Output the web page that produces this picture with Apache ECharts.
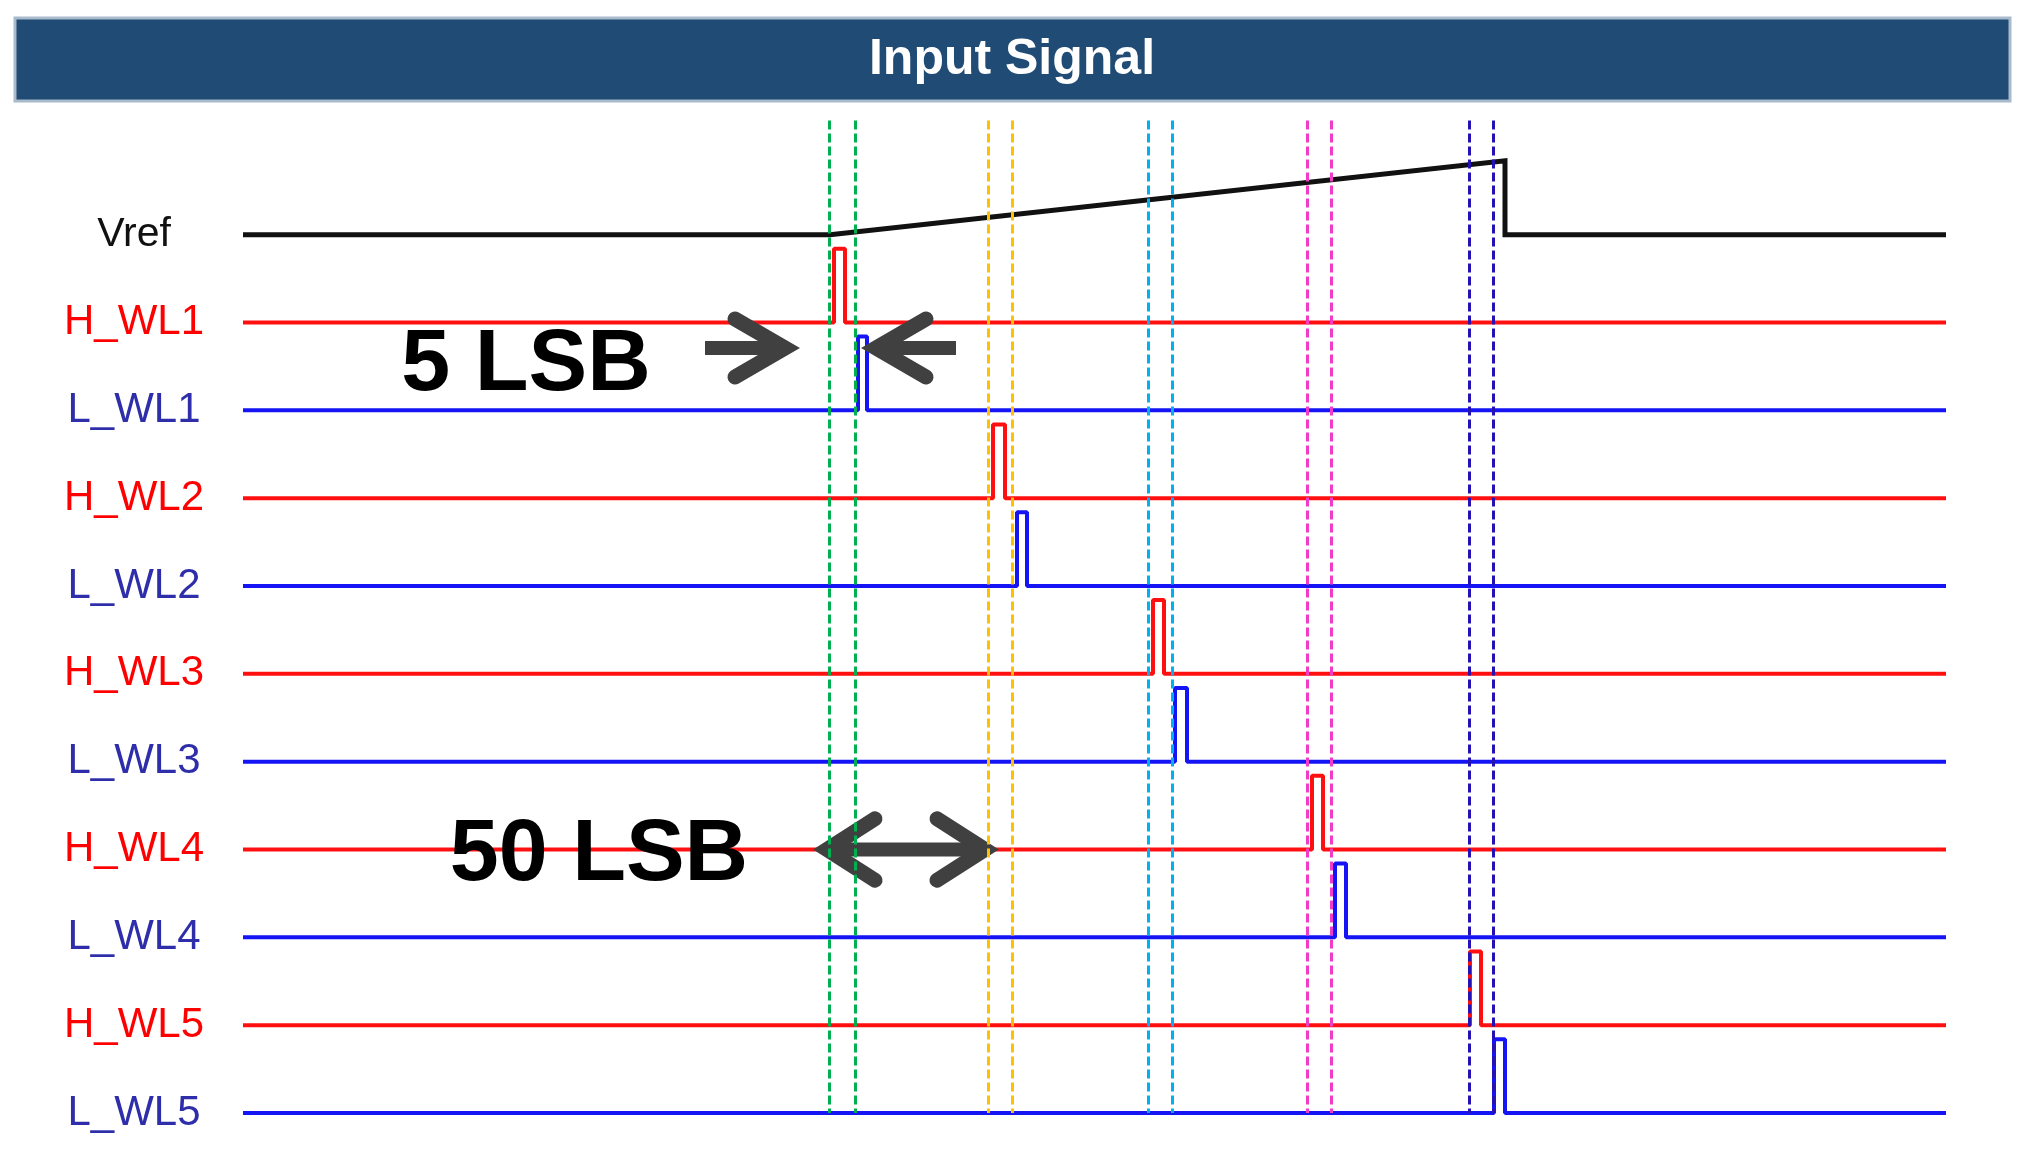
<!DOCTYPE html>
<html>
<head>
<meta charset="utf-8">
<title>Input Signal</title>
<script src="https://cdn.jsdelivr.net/npm/echarts@6/dist/echarts.min.js"></script>
<style>
  html, body { margin: 0; padding: 0; background: #ffffff; }
  #inputSignal { width: 2025px; height: 1152px; }
</style>
</head>
<body>
<div id="inputSignal"></div>
<script>
// signal rows, top to bottom (row index is the y value)
var rowNames = ['Vref', 'H_WL1', 'L_WL1', 'H_WL2', 'L_WL2', 'H_WL3', 'L_WL3', 'H_WL4', 'L_WL4', 'H_WL5', 'L_WL5'];
// time axis in arbitrary units
var timeEnd = 1703;
var pulseHigh = 0.84;

// Vref: flat, ramp, drop
var vrefTime = [0, 587, 1262, 1262, 1703];
var vrefLevel = [0, 0, 0.84, 0, 0];

// H_WL / L_WL pulses (rise, fall)
var hRise = [591, 750, 910, 1069, 1227];
var hFall = [602, 762, 921, 1080, 1238];
var lRise = [615, 774, 932, 1092, 1251];
var lFall = [624, 784, 944, 1103, 1262];

// dashed marker pairs
var markerLeft = [586, 745, 905, 1064, 1226];
var markerRight = [612, 769, 929, 1088, 1250];
var markerColors = ['#00b050', '#ffc000', '#00b0f0', '#f03cc8', '#2412b4'];

// annotations
var notes = [
  { text: '5 LSB', t: 283, row: 1.49 },
  { text: '50 LSB', t: 356, row: 7.07 }
];
// arrow shafts [tStart, tEnd, row]
var shafts = [[462, 545, 1.29], [630, 713, 1.29], [584, 742, 7.0]];
// arrow heads [tipT, armT, row, armSpread]
var heads = [[542, 492, 1.29, 0.33], [633, 683, 1.29, 0.33], [584, 632, 7.0, 0.35], [742, 694, 7.0, 0.35]];

var chart = echarts.init(document.getElementById('inputSignal'));

function pulseData(row, rise, fall) {
  return [[0, row], [rise, row], [rise, row - pulseHigh], [fall, row - pulseHigh], [fall, row], [timeEnd, row]];
}

var labelFont = 'Liberation Sans, Arial, sans-serif';
var series = [];

series.push({
  name: 'Vref',
  type: 'line',
  symbol: 'none',
  animation: false,
  lineStyle: { color: '#111111', width: 5, join: 'miter' },
  data: vrefTime.map(function (t, i) { return [t, 0 - vrefLevel[i]]; }),
  z: 2
});

for (var i = 0; i < 5; i++) {
  series.push({
    name: rowNames[1 + i * 2],
    type: 'line',
    symbol: 'none',
    animation: false,
    lineStyle: { color: '#ff1010', width: 4 },
    data: pulseData(1 + i * 2, hRise[i], hFall[i]),
    z: 2
  });
  series.push({
    name: rowNames[2 + i * 2],
    type: 'line',
    symbol: 'none',
    animation: false,
    lineStyle: { color: '#1414f5', width: 4 },
    data: pulseData(2 + i * 2, lRise[i], lFall[i]),
    z: 2
  });
}

// dashed vertical markers
markerColors.forEach(function (c, i) {
  series.push({
    type: 'line',
    data: [],
    animation: false,
    z: 3,
    markLine: {
      silent: true,
      symbol: 'none',
      label: { show: false },
      lineStyle: { color: c, width: 3, type: [9, 4] },
      data: [
        [{ coord: [markerLeft[i], -1.3] }, { coord: [markerLeft[i], 10] }],
        [{ coord: [markerRight[i], -1.3] }, { coord: [markerRight[i], 10] }]
      ]
    }
  });
});

// arrows
shafts.forEach(function (s) {
  series.push({
    type: 'line',
    symbol: 'none',
    animation: false,
    z: 4,
    lineStyle: { color: '#404040', width: 14, cap: 'butt' },
    data: [[s[0], s[2]], [s[1], s[2]]]
  });
});
heads.forEach(function (h) {
  series.push({
    type: 'line',
    symbol: 'none',
    animation: false,
    z: 4,
    lineStyle: { color: '#404040', width: 15, cap: 'round', join: 'miter' },
    data: [[h[1], h[2] - h[3]], [h[0], h[2]], [h[1], h[2] + h[3]]]
  });
});

series.push({
  type: 'scatter',
  symbolSize: 0,
  animation: false,
  z: 5,
  itemStyle: { color: '#000000', opacity: 1 },
  label: {
    show: true,
    position: 'inside',
    formatter: function (p) { return p.data[2]; },
    color: '#000000',
    opacity: 1,
    textBorderWidth: 0,
    textBorderColor: 'transparent',
    fontFamily: labelFont,
    fontWeight: 'bold',
    fontSize: 88
  },
  data: notes.map(function (n) { return [n.t, n.row, n.text]; })
});

var option = {
  backgroundColor: '#ffffff',
  animation: false,
  graphic: [
    {
      type: 'rect',
      shape: { x: 15, y: 18, width: 1995, height: 83 },
      style: { fill: '#1f4b74', stroke: '#a9bacb', lineWidth: 3 },
      z: 10
    },
    {
      type: 'text',
      x: 1012,
      y: 60,
      style: {
        text: 'Input Signal',
        fill: '#ffffff',
        font: 'bold 50px "Liberation Sans", Arial, sans-serif',
        textAlign: 'center',
        textVerticalAlign: 'middle'
      },
      z: 11
    }
  ],
  grid: { left: 243, right: 79, top: 59, bottom: 39 },
  xAxis: {
    type: 'value',
    min: 0,
    max: timeEnd,
    show: false
  },
  yAxis: {
    type: 'value',
    inverse: true,
    min: -2,
    max: 10,
    interval: 1,
    axisLine: { show: false },
    axisTick: { show: false },
    splitLine: { show: false },
    axisLabel: {
      align: 'center',
      margin: 109,
      fontSize: 42,
      fontFamily: labelFont,
      formatter: function (v) {
        var name = rowNames[v];
        if (!name) return '';
        var key = name === 'Vref' ? 'v' : (name.charAt(0) === 'H' ? 'h' : 'l');
        return '{' + key + '|' + name + '}';
      },
      rich: {
        v: { color: '#111111', fontSize: 41, fontFamily: labelFont },
        h: { color: '#ff0000', fontSize: 42, fontFamily: labelFont },
        l: { color: '#2e2eaa', fontSize: 42, fontFamily: labelFont }
      }
    }
  },
  series: series
};

chart.setOption(option);
window.addEventListener('resize', function () {
  chart.resize();
});
</script>
</body>
</html>
